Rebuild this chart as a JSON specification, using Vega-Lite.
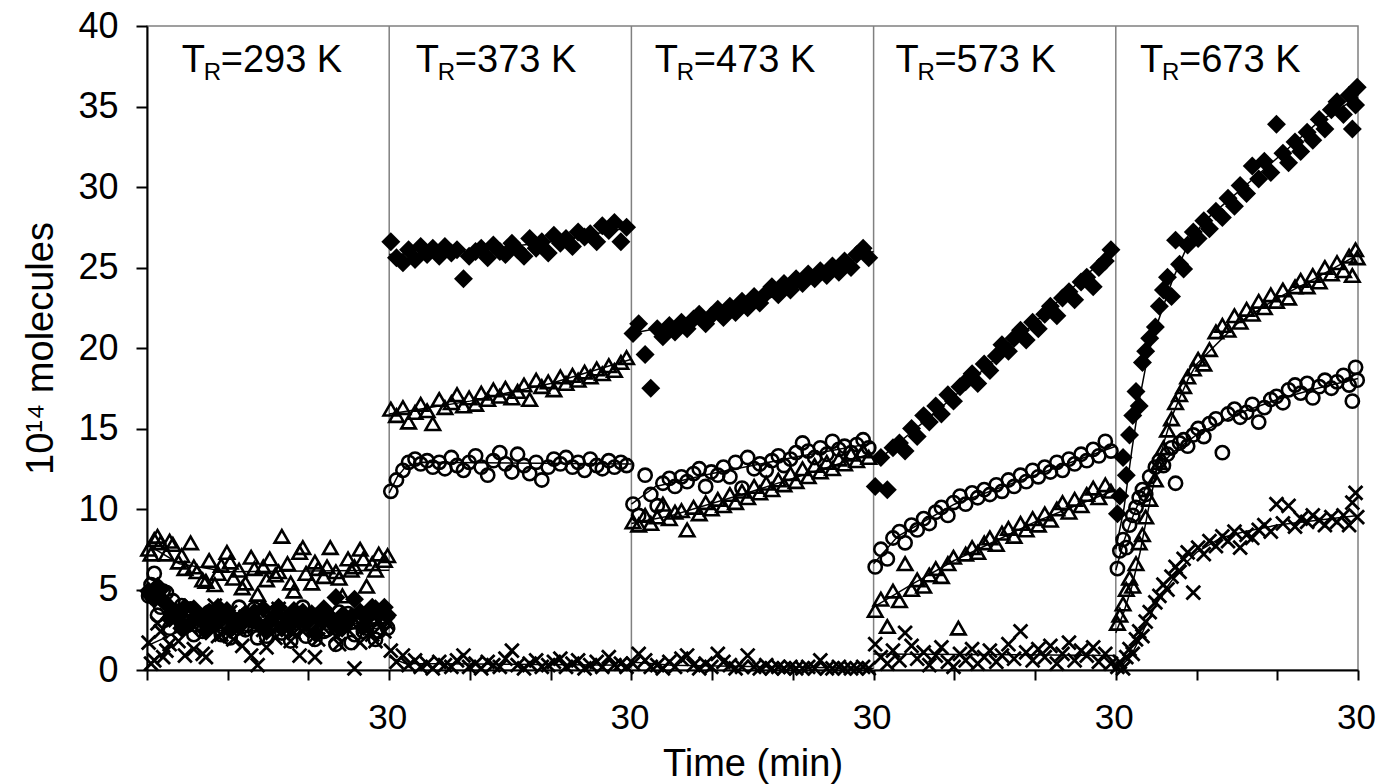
{
"$schema": "https://vega.github.io/schema/vega-lite/v6.json",
"width": 1211, "height": 644,
"autosize": {"type": "none"},
"padding": {"left": 147, "top": 26, "right": 18, "bottom": 114},
"background": "white",
"config": {"view": {"stroke": "#808080", "strokeWidth": 1.5}, "font": "Liberation Sans"},
"datasets": {
"D": [
{"t":0.2,"v":4.9},{"t":0.9,"v":4.4},{"t":1.7,"v":5.0},{"t":2.4,"v":4.1},{"t":3.2,"v":3.6},{"t":3.9,"v":3.3},{"t":4.7,"v":3.9},{"t":5.4,"v":2.9},{"t":6.2,"v":3.4},{"t":6.9,"v":3.0},{"t":7.7,"v":3.6},{"t":8.4,"v":2.8},{"t":9.2,"v":3.3},{"t":9.9,"v":3.7},{"t":10.7,"v":3.1},{"t":11.4,"v":2.7},{"t":12.2,"v":3.5},{"t":12.9,"v":3.2},{"t":13.7,"v":2.9},{"t":14.4,"v":3.8},{"t":15.2,"v":3.0},{"t":15.9,"v":3.4},{"t":16.7,"v":2.6},{"t":17.4,"v":3.3},{"t":18.2,"v":3.7},{"t":18.9,"v":3.1},{"t":19.7,"v":2.9},{"t":20.4,"v":3.5},{"t":21.2,"v":3.2},{"t":21.9,"v":3.8},{"t":22.7,"v":3.0},{"t":23.4,"v":4.5},{"t":24.2,"v":3.4},{"t":24.9,"v":3.1},{"t":25.7,"v":4.4},{"t":26.4,"v":3.6},{"t":27.2,"v":3.2},{"t":27.9,"v":3.9},{"t":28.7,"v":3.4},{"t":29.4,"v":3.9},
{"t":0.5,"v":4.6},{"t":1.3,"v":5.2},{"t":2.0,"v":4.3},{"t":2.8,"v":3.2},{"t":4.3,"v":2.6},{"t":5.8,"v":3.8},{"t":7.3,"v":2.4},{"t":8.8,"v":3.9},{"t":10.3,"v":2.5},{"t":11.8,"v":3.3},{"t":13.3,"v":3.6},{"t":14.8,"v":2.4},{"t":16.3,"v":3.9},{"t":17.8,"v":2.8},{"t":19.3,"v":3.6},{"t":20.8,"v":2.3},{"t":22.3,"v":3.4},{"t":23.8,"v":2.6},{"t":25.3,"v":3.3},{"t":26.8,"v":2.7},{"t":28.3,"v":3.8},{"t":29.8,"v":3.4},
{"t":30.2,"v":26.6},{"t":30.9,"v":25.6},{"t":31.7,"v":25.3},{"t":32.4,"v":26.1},{"t":33.2,"v":25.5},{"t":33.9,"v":26.3},{"t":34.7,"v":25.8},{"t":35.4,"v":26.2},{"t":36.2,"v":25.7},{"t":36.9,"v":26.3},{"t":37.7,"v":25.9},{"t":38.4,"v":26.1},{"t":39.2,"v":24.3},{"t":39.9,"v":25.7},{"t":40.7,"v":26.0},{"t":41.4,"v":26.2},{"t":42.2,"v":25.6},{"t":42.9,"v":26.4},{"t":43.7,"v":26.0},{"t":44.4,"v":25.8},{"t":45.2,"v":26.5},{"t":45.9,"v":26.1},{"t":46.7,"v":25.7},{"t":47.4,"v":26.8},{"t":48.2,"v":26.2},{"t":48.9,"v":26.6},{"t":49.7,"v":25.9},{"t":50.4,"v":27.0},{"t":51.2,"v":26.5},{"t":51.9,"v":26.8},{"t":52.7,"v":26.3},{"t":53.4,"v":27.2},{"t":54.2,"v":26.9},{"t":54.9,"v":27.1},{"t":55.7,"v":26.6},{"t":56.4,"v":27.6},{"t":57.2,"v":27.3},{"t":57.9,"v":27.8},{"t":58.7,"v":26.6},{"t":59.4,"v":27.5},
{"t":60.2,"v":20.9},{"t":60.9,"v":21.5},{"t":61.7,"v":19.6},{"t":62.4,"v":17.5},{"t":63.2,"v":21.2},{"t":63.9,"v":20.7},{"t":64.7,"v":21.4},{"t":65.4,"v":21.0},{"t":66.2,"v":21.6},{"t":66.9,"v":21.2},{"t":67.7,"v":21.8},{"t":68.4,"v":22.1},{"t":69.2,"v":21.5},{"t":69.9,"v":22.0},{"t":70.7,"v":22.4},{"t":71.4,"v":21.9},{"t":72.2,"v":22.6},{"t":72.9,"v":22.2},{"t":73.7,"v":22.9},{"t":74.4,"v":22.5},{"t":75.2,"v":23.2},{"t":75.9,"v":22.8},{"t":76.7,"v":23.4},{"t":77.4,"v":23.8},{"t":78.2,"v":23.3},{"t":78.9,"v":24.0},{"t":79.7,"v":23.6},{"t":80.4,"v":24.3},{"t":81.2,"v":24.0},{"t":81.9,"v":24.6},{"t":82.7,"v":24.3},{"t":83.4,"v":24.8},{"t":84.2,"v":24.5},{"t":84.9,"v":25.1},{"t":85.7,"v":24.7},{"t":86.4,"v":25.4},{"t":87.2,"v":25.0},{"t":87.9,"v":25.8},{"t":88.7,"v":26.2},{"t":89.4,"v":25.6},
{"t":90.2,"v":11.4},{"t":90.9,"v":13.2},{"t":91.7,"v":11.2},{"t":92.4,"v":13.8},{"t":93.2,"v":14.1},{"t":93.9,"v":13.6},{"t":94.7,"v":15.0},{"t":95.4,"v":14.5},{"t":96.2,"v":15.8},{"t":96.9,"v":15.4},{"t":97.7,"v":16.4},{"t":98.4,"v":15.9},{"t":99.2,"v":17.1},{"t":99.9,"v":16.7},{"t":100.7,"v":17.6},{"t":101.4,"v":17.9},{"t":102.2,"v":18.4},{"t":102.9,"v":17.8},{"t":103.7,"v":19.0},{"t":104.4,"v":18.6},{"t":105.2,"v":19.5},{"t":105.9,"v":20.2},{"t":106.7,"v":19.8},{"t":107.4,"v":20.6},{"t":108.2,"v":21.1},{"t":108.9,"v":20.5},{"t":109.7,"v":21.6},{"t":110.4,"v":21.2},{"t":111.2,"v":22.1},{"t":111.9,"v":22.6},{"t":112.7,"v":22.0},{"t":113.4,"v":23.1},{"t":114.2,"v":23.5},{"t":114.9,"v":23.0},{"t":115.7,"v":24.1},{"t":116.4,"v":24.4},{"t":117.2,"v":23.8},{"t":117.9,"v":25.0},{"t":118.7,"v":25.4},{"t":119.4,"v":26.1},
{"t":120.2,"v":9.7},{"t":120.5,"v":10.8},{"t":120.9,"v":13.2},{"t":121.3,"v":12.1},{"t":121.7,"v":14.6},{"t":122.1,"v":15.8},{"t":122.5,"v":17.3},{"t":122.9,"v":16.4},{"t":123.3,"v":19.1},{"t":123.7,"v":19.8},{"t":124.2,"v":20.6},{"t":124.9,"v":21.3},{"t":125.4,"v":22.6},{"t":125.9,"v":23.6},{"t":126.4,"v":24.4},{"t":126.9,"v":23.2},{"t":127.4,"v":26.7},{"t":127.9,"v":25.2},{"t":128.4,"v":24.9},{"t":128.9,"v":26.4},{"t":129.6,"v":27.2},{"t":130.2,"v":26.8},{"t":130.9,"v":27.9},{"t":131.6,"v":27.4},{"t":132.4,"v":28.5},{"t":133.2,"v":28.1},{"t":133.9,"v":29.3},{"t":134.7,"v":28.8},{"t":135.4,"v":30.1},{"t":136.2,"v":29.6},{"t":136.9,"v":31.3},{"t":137.7,"v":30.5},{"t":138.4,"v":31.6},{"t":139.2,"v":30.9},{"t":139.9,"v":33.9},{"t":140.7,"v":32.1},{"t":141.4,"v":31.5},{"t":142.2,"v":32.8},{"t":142.9,"v":32.2},{"t":143.7,"v":33.4},{"t":144.4,"v":32.9},{"t":145.2,"v":34.2},{"t":145.9,"v":33.6},{"t":146.7,"v":34.8},{"t":147.4,"v":35.3},{"t":148.2,"v":34.5},{"t":148.9,"v":35.7},{"t":149.3,"v":33.6},{"t":149.7,"v":35.1},{"t":149.9,"v":36.2}
],
"T": [
{"t":0.2,"v":7.5},{"t":0.9,"v":8.1},{"t":1.7,"v":7.9},{"t":2.4,"v":7.2},{"t":3.2,"v":7.8},{"t":3.9,"v":6.7},{"t":4.7,"v":6.3},{"t":5.4,"v":7.9},{"t":6.2,"v":6.1},{"t":6.9,"v":5.6},{"t":7.7,"v":6.8},{"t":8.4,"v":5.3},{"t":9.2,"v":6.5},{"t":9.9,"v":7.3},{"t":10.7,"v":5.7},{"t":11.4,"v":6.2},{"t":12.2,"v":5.4},{"t":12.9,"v":7.0},{"t":13.7,"v":4.7},{"t":14.4,"v":6.4},{"t":15.2,"v":6.9},{"t":15.9,"v":5.9},{"t":16.7,"v":8.3},{"t":17.4,"v":6.6},{"t":18.2,"v":4.9},{"t":18.9,"v":7.3},{"t":19.7,"v":6.0},{"t":20.4,"v":5.4},{"t":21.2,"v":6.3},{"t":21.9,"v":5.8},{"t":22.7,"v":7.6},{"t":23.4,"v":6.1},{"t":24.2,"v":4.6},{"t":24.9,"v":6.9},{"t":25.7,"v":6.4},{"t":26.4,"v":7.5},{"t":27.2,"v":5.2},{"t":27.9,"v":6.6},{"t":28.7,"v":7.2},{"t":29.4,"v":6.8},
{"t":0.5,"v":7.2},{"t":1.3,"v":8.3},{"t":2.8,"v":8.0},{"t":4.3,"v":7.1},{"t":5.8,"v":6.4},{"t":7.3,"v":5.5},{"t":8.8,"v":6.0},{"t":10.3,"v":6.7},{"t":11.8,"v":5.1},{"t":13.3,"v":6.3},{"t":14.8,"v":5.6},{"t":16.3,"v":6.1},{"t":17.8,"v":5.4},{"t":19.3,"v":7.6},{"t":20.8,"v":6.7},{"t":22.3,"v":6.4},{"t":23.8,"v":5.7},{"t":25.3,"v":6.2},{"t":26.8,"v":6.9},{"t":28.3,"v":6.2},{"t":29.8,"v":7.1},
{"t":30.2,"v":16.2},{"t":30.9,"v":15.8},{"t":31.7,"v":16.3},{"t":32.4,"v":15.4},{"t":33.2,"v":16.0},{"t":33.9,"v":16.5},{"t":34.7,"v":16.1},{"t":35.4,"v":15.3},{"t":36.2,"v":16.8},{"t":36.9,"v":16.3},{"t":37.7,"v":16.6},{"t":38.4,"v":17.1},{"t":39.2,"v":16.4},{"t":39.9,"v":16.9},{"t":40.7,"v":16.5},{"t":41.4,"v":17.2},{"t":42.2,"v":16.8},{"t":42.9,"v":17.4},{"t":43.7,"v":17.0},{"t":44.4,"v":17.5},{"t":45.2,"v":16.9},{"t":45.9,"v":17.3},{"t":46.7,"v":17.7},{"t":47.4,"v":16.8},{"t":48.2,"v":18.0},{"t":48.9,"v":17.6},{"t":49.7,"v":17.9},{"t":50.4,"v":17.4},{"t":51.2,"v":18.2},{"t":51.9,"v":17.8},{"t":52.7,"v":18.3},{"t":53.4,"v":18.0},{"t":54.2,"v":18.5},{"t":54.9,"v":18.2},{"t":55.7,"v":18.7},{"t":56.4,"v":18.4},{"t":57.2,"v":18.9},{"t":57.9,"v":18.6},{"t":58.7,"v":19.1},{"t":59.4,"v":19.4},
{"t":60.2,"v":9.2},{"t":60.9,"v":9.0},{"t":61.7,"v":9.6},{"t":62.4,"v":9.1},{"t":63.2,"v":9.5},{"t":63.9,"v":10.3},{"t":64.7,"v":9.4},{"t":65.4,"v":9.8},{"t":66.2,"v":9.9},{"t":66.9,"v":8.7},{"t":67.7,"v":10.1},{"t":68.4,"v":9.7},{"t":69.2,"v":10.4},{"t":69.9,"v":10.0},{"t":70.7,"v":10.6},{"t":71.4,"v":10.2},{"t":72.2,"v":10.9},{"t":72.9,"v":10.4},{"t":73.7,"v":11.1},{"t":74.4,"v":10.7},{"t":75.2,"v":11.4},{"t":75.9,"v":11.0},{"t":76.7,"v":11.6},{"t":77.4,"v":11.2},{"t":78.2,"v":11.8},{"t":78.9,"v":11.5},{"t":79.7,"v":12.2},{"t":80.4,"v":11.7},{"t":81.2,"v":12.5},{"t":81.9,"v":12.0},{"t":82.7,"v":12.7},{"t":83.4,"v":12.3},{"t":84.2,"v":12.9},{"t":84.9,"v":12.5},{"t":85.7,"v":13.1},{"t":86.4,"v":12.8},{"t":87.2,"v":13.4},{"t":87.9,"v":13.0},{"t":88.7,"v":13.6},{"t":89.4,"v":13.2},
{"t":90.2,"v":3.7},{"t":90.9,"v":4.4},{"t":91.7,"v":2.7},{"t":92.4,"v":4.9},{"t":93.2,"v":4.3},{"t":93.9,"v":6.6},{"t":94.7,"v":5.0},{"t":95.4,"v":5.6},{"t":96.2,"v":5.2},{"t":96.9,"v":5.9},{"t":97.7,"v":6.3},{"t":98.4,"v":5.8},{"t":99.2,"v":6.6},{"t":99.9,"v":7.0},{"t":100.5,"v":2.6},{"t":101.4,"v":7.2},{"t":102.2,"v":7.6},{"t":102.9,"v":7.3},{"t":103.7,"v":7.9},{"t":104.4,"v":8.2},{"t":105.2,"v":7.8},{"t":105.9,"v":8.5},{"t":106.7,"v":8.8},{"t":107.4,"v":8.3},{"t":108.2,"v":9.1},{"t":108.9,"v":8.7},{"t":109.7,"v":9.4},{"t":110.4,"v":9.0},{"t":111.2,"v":9.7},{"t":111.9,"v":9.3},{"t":112.7,"v":10.0},{"t":113.4,"v":10.4},{"t":114.2,"v":9.8},{"t":114.9,"v":10.6},{"t":115.7,"v":10.2},{"t":116.4,"v":10.9},{"t":117.2,"v":11.3},{"t":117.9,"v":10.7},{"t":118.7,"v":11.5},{"t":119.4,"v":11.1},
{"t":120.2,"v":2.9},{"t":120.5,"v":3.4},{"t":120.9,"v":4.1},{"t":121.3,"v":5.0},{"t":121.7,"v":5.7},{"t":122.1,"v":5.2},{"t":122.5,"v":6.6},{"t":122.9,"v":7.9},{"t":123.3,"v":8.4},{"t":123.7,"v":9.5},{"t":124.2,"v":10.6},{"t":124.9,"v":11.8},{"t":125.4,"v":12.9},{"t":125.9,"v":13.8},{"t":126.4,"v":14.9},{"t":126.9,"v":15.6},{"t":127.4,"v":16.6},{"t":127.9,"v":17.1},{"t":128.4,"v":17.6},{"t":128.9,"v":18.2},{"t":129.6,"v":18.7},{"t":130.2,"v":19.3},{"t":130.9,"v":19.0},{"t":131.6,"v":19.9},{"t":132.4,"v":21.0},{"t":133.2,"v":21.4},{"t":133.9,"v":21.1},{"t":134.7,"v":22.0},{"t":135.4,"v":21.6},{"t":136.2,"v":22.4},{"t":136.9,"v":22.1},{"t":137.7,"v":22.9},{"t":138.4,"v":22.5},{"t":139.2,"v":23.3},{"t":139.9,"v":22.9},{"t":140.7,"v":23.6},{"t":141.4,"v":23.1},{"t":142.2,"v":23.8},{"t":142.9,"v":24.2},{"t":143.7,"v":23.8},{"t":144.4,"v":24.5},{"t":145.2,"v":24.1},{"t":145.9,"v":25.0},{"t":146.7,"v":24.6},{"t":147.4,"v":25.3},{"t":148.2,"v":24.8},{"t":148.9,"v":25.7},{"t":149.3,"v":24.5},{"t":149.7,"v":26.1},{"t":149.9,"v":25.6}
],
"C": [
{"t":0.2,"v":4.6},{"t":0.9,"v":6.0},{"t":1.7,"v":3.9},{"t":2.4,"v":4.8},{"t":3.2,"v":4.3},{"t":3.9,"v":3.5},{"t":4.7,"v":2.7},{"t":5.4,"v":3.8},{"t":6.2,"v":3.2},{"t":6.9,"v":2.4},{"t":7.7,"v":3.6},{"t":8.4,"v":2.9},{"t":9.2,"v":2.2},{"t":9.9,"v":3.4},{"t":10.7,"v":2.8},{"t":11.4,"v":3.9},{"t":12.2,"v":2.5},{"t":12.9,"v":3.1},{"t":13.7,"v":2.0},{"t":14.4,"v":3.3},{"t":15.2,"v":2.7},{"t":15.9,"v":3.6},{"t":16.7,"v":2.3},{"t":17.4,"v":3.0},{"t":18.2,"v":2.6},{"t":18.9,"v":3.5},{"t":19.7,"v":2.1},{"t":20.4,"v":2.9},{"t":21.2,"v":3.4},{"t":21.9,"v":2.4},{"t":22.7,"v":3.2},{"t":23.4,"v":1.6},{"t":24.2,"v":2.8},{"t":24.9,"v":3.5},{"t":25.7,"v":2.2},{"t":26.4,"v":3.0},{"t":27.2,"v":2.6},{"t":27.9,"v":3.3},{"t":28.7,"v":2.4},{"t":29.4,"v":3.0},
{"t":0.5,"v":5.3},{"t":1.3,"v":3.4},{"t":2.0,"v":4.9},{"t":2.8,"v":2.6},{"t":4.3,"v":4.0},{"t":5.8,"v":2.2},{"t":7.3,"v":3.0},{"t":8.8,"v":3.7},{"t":10.3,"v":2.0},{"t":11.8,"v":2.7},{"t":13.3,"v":3.8},{"t":14.8,"v":2.1},{"t":16.3,"v":3.2},{"t":17.8,"v":1.8},{"t":19.3,"v":3.9},{"t":20.8,"v":1.9},{"t":22.3,"v":2.5},{"t":23.8,"v":3.6},{"t":25.3,"v":1.7},{"t":26.8,"v":2.4},{"t":28.3,"v":1.9},{"t":29.8,"v":2.6},
{"t":30.2,"v":11.1},{"t":30.9,"v":11.8},{"t":31.7,"v":12.4},{"t":32.4,"v":12.9},{"t":33.2,"v":13.1},{"t":33.9,"v":12.8},{"t":34.7,"v":13.0},{"t":35.4,"v":12.6},{"t":36.2,"v":12.9},{"t":36.9,"v":12.5},{"t":37.7,"v":13.2},{"t":38.4,"v":12.7},{"t":39.2,"v":12.4},{"t":39.9,"v":12.9},{"t":40.7,"v":13.3},{"t":41.4,"v":12.6},{"t":42.2,"v":12.1},{"t":42.9,"v":13.0},{"t":43.7,"v":13.5},{"t":44.4,"v":12.8},{"t":45.2,"v":12.3},{"t":45.9,"v":13.4},{"t":46.7,"v":12.7},{"t":47.4,"v":12.2},{"t":48.2,"v":12.9},{"t":48.9,"v":11.8},{"t":49.7,"v":12.6},{"t":50.4,"v":13.1},{"t":51.2,"v":12.8},{"t":51.9,"v":13.2},{"t":52.7,"v":12.6},{"t":53.4,"v":12.9},{"t":54.2,"v":12.4},{"t":54.9,"v":13.1},{"t":55.7,"v":12.7},{"t":56.4,"v":12.5},{"t":57.2,"v":13.0},{"t":57.9,"v":12.6},{"t":58.7,"v":12.9},{"t":59.4,"v":12.7},
{"t":60.2,"v":10.3},{"t":60.9,"v":9.6},{"t":61.7,"v":12.1},{"t":62.4,"v":10.9},{"t":63.2,"v":10.2},{"t":63.9,"v":11.6},{"t":64.7,"v":11.9},{"t":65.4,"v":11.4},{"t":66.2,"v":12.0},{"t":66.9,"v":11.7},{"t":67.7,"v":12.2},{"t":68.4,"v":12.5},{"t":69.2,"v":11.4},{"t":69.9,"v":12.3},{"t":70.7,"v":12.1},{"t":71.4,"v":12.6},{"t":72.2,"v":12.0},{"t":72.9,"v":12.9},{"t":73.7,"v":11.3},{"t":74.4,"v":13.2},{"t":75.2,"v":12.5},{"t":75.9,"v":12.8},{"t":76.7,"v":12.4},{"t":77.4,"v":13.0},{"t":78.2,"v":13.3},{"t":78.9,"v":12.7},{"t":79.7,"v":13.1},{"t":80.4,"v":13.5},{"t":81.2,"v":14.1},{"t":81.9,"v":13.6},{"t":82.7,"v":13.2},{"t":83.4,"v":13.8},{"t":84.2,"v":13.4},{"t":84.9,"v":14.2},{"t":85.7,"v":13.7},{"t":86.4,"v":13.9},{"t":87.2,"v":13.5},{"t":87.9,"v":14.0},{"t":88.7,"v":14.3},{"t":89.4,"v":13.8},
{"t":90.2,"v":6.4},{"t":90.9,"v":7.5},{"t":91.7,"v":6.9},{"t":92.4,"v":8.2},{"t":93.2,"v":8.6},{"t":93.9,"v":7.9},{"t":94.7,"v":9.0},{"t":95.4,"v":8.7},{"t":96.2,"v":9.4},{"t":96.9,"v":9.1},{"t":97.7,"v":9.8},{"t":98.4,"v":10.1},{"t":99.2,"v":9.6},{"t":99.9,"v":10.4},{"t":100.7,"v":10.8},{"t":101.4,"v":10.3},{"t":102.2,"v":11.0},{"t":102.9,"v":10.7},{"t":103.7,"v":11.2},{"t":104.4,"v":10.9},{"t":105.2,"v":11.5},{"t":105.9,"v":11.1},{"t":106.7,"v":11.8},{"t":107.4,"v":11.4},{"t":108.2,"v":12.1},{"t":108.9,"v":11.7},{"t":109.7,"v":12.4},{"t":110.4,"v":12.0},{"t":111.2,"v":12.6},{"t":111.9,"v":12.3},{"t":112.7,"v":12.9},{"t":113.4,"v":12.4},{"t":114.2,"v":13.1},{"t":114.9,"v":12.8},{"t":115.7,"v":13.4},{"t":116.4,"v":13.0},{"t":117.2,"v":13.7},{"t":117.9,"v":13.3},{"t":118.7,"v":14.2},{"t":119.4,"v":13.6},
{"t":120.2,"v":6.3},{"t":120.5,"v":7.4},{"t":120.9,"v":8.1},{"t":121.3,"v":7.6},{"t":121.7,"v":9.0},{"t":122.1,"v":9.6},{"t":122.5,"v":10.1},{"t":122.9,"v":10.7},{"t":123.3,"v":11.2},{"t":123.7,"v":10.9},{"t":124.2,"v":12.0},{"t":124.9,"v":12.6},{"t":125.4,"v":13.0},{"t":125.9,"v":12.7},{"t":126.4,"v":13.4},{"t":126.9,"v":13.8},{"t":127.4,"v":11.6},{"t":127.9,"v":14.1},{"t":128.4,"v":14.3},{"t":128.9,"v":13.9},{"t":129.6,"v":14.6},{"t":130.2,"v":15.0},{"t":130.9,"v":14.5},{"t":131.6,"v":15.3},{"t":132.4,"v":15.6},{"t":133.2,"v":13.5},{"t":133.9,"v":15.9},{"t":134.7,"v":16.2},{"t":135.4,"v":15.7},{"t":136.2,"v":16.0},{"t":136.9,"v":16.5},{"t":137.7,"v":15.4},{"t":138.4,"v":16.3},{"t":139.2,"v":16.8},{"t":139.9,"v":17.0},{"t":140.7,"v":16.6},{"t":141.4,"v":17.4},{"t":142.2,"v":17.7},{"t":142.9,"v":17.2},{"t":143.7,"v":17.8},{"t":144.4,"v":16.9},{"t":145.2,"v":17.6},{"t":145.9,"v":18.0},{"t":146.7,"v":17.5},{"t":147.4,"v":17.9},{"t":148.2,"v":18.3},{"t":148.9,"v":17.7},{"t":149.3,"v":16.7},{"t":149.7,"v":18.8},{"t":149.9,"v":18.0}
],
"X": [
{"t":0.2,"v":1.7},{"t":0.9,"v":0.6},{"t":1.7,"v":2.4},{"t":2.4,"v":1.2},{"t":3.2,"v":3.1},{"t":3.9,"v":1.8},{"t":4.7,"v":0.9},{"t":5.4,"v":2.6},{"t":6.2,"v":3.4},{"t":6.9,"v":1.0},{"t":7.7,"v":2.8},{"t":8.4,"v":4.0},{"t":9.2,"v":2.2},{"t":9.9,"v":3.0},{"t":10.7,"v":1.9},{"t":11.4,"v":2.6},{"t":12.2,"v":3.3},{"t":12.9,"v":0.9},{"t":13.7,"v":0.3},{"t":14.4,"v":2.5},{"t":15.2,"v":3.1},{"t":15.9,"v":2.0},{"t":16.7,"v":2.8},{"t":17.4,"v":3.5},{"t":18.2,"v":2.3},{"t":18.9,"v":0.9},{"t":19.7,"v":2.7},{"t":20.4,"v":3.2},{"t":21.2,"v":1.9},{"t":21.9,"v":2.6},{"t":22.7,"v":3.6},{"t":23.4,"v":2.1},{"t":24.2,"v":3.0},{"t":24.9,"v":2.5},{"t":25.7,"v":0.1},{"t":26.4,"v":1.7},{"t":27.2,"v":2.8},{"t":27.9,"v":2.2},{"t":28.7,"v":3.1},{"t":29.4,"v":2.4},
{"t":0.5,"v":0.4},{"t":1.3,"v":2.9},{"t":2.0,"v":0.8},{"t":2.8,"v":1.6},{"t":4.3,"v":3.7},{"t":5.8,"v":1.3},{"t":7.3,"v":0.8},{"t":8.8,"v":2.1},{"t":10.3,"v":3.6},{"t":11.8,"v":1.5},{"t":13.3,"v":2.7},{"t":14.8,"v":1.4},{"t":16.3,"v":3.8},{"t":17.8,"v":1.8},{"t":19.3,"v":2.4},{"t":20.8,"v":0.8},{"t":22.3,"v":2.9},{"t":23.8,"v":1.6},{"t":25.3,"v":3.4},{"t":26.8,"v":2.6},{"t":28.3,"v":1.8},{"t":29.8,"v":2.9},
{"t":30.2,"v":1.2},{"t":30.9,"v":0.5},{"t":31.7,"v":0.9},{"t":32.4,"v":0.3},{"t":33.2,"v":0.6},{"t":33.9,"v":0.2},{"t":34.7,"v":0.4},{"t":35.4,"v":0.1},{"t":36.2,"v":0.5},{"t":36.9,"v":0.3},{"t":37.7,"v":0.2},{"t":38.4,"v":0.6},{"t":39.2,"v":0.9},{"t":39.9,"v":0.2},{"t":40.7,"v":0.4},{"t":41.4,"v":0.1},{"t":42.2,"v":0.5},{"t":42.9,"v":0.3},{"t":43.7,"v":0.2},{"t":44.4,"v":0.7},{"t":45.2,"v":1.2},{"t":45.9,"v":0.3},{"t":46.7,"v":0.1},{"t":47.4,"v":0.4},{"t":48.2,"v":0.6},{"t":48.9,"v":0.2},{"t":49.7,"v":0.3},{"t":50.4,"v":0.5},{"t":51.2,"v":0.7},{"t":51.9,"v":0.2},{"t":52.7,"v":0.4},{"t":53.4,"v":0.6},{"t":54.2,"v":0.1},{"t":54.9,"v":0.3},{"t":55.7,"v":0.5},{"t":56.4,"v":0.2},{"t":57.2,"v":0.8},{"t":57.9,"v":0.3},{"t":58.7,"v":0.4},{"t":59.4,"v":0.2},
{"t":60.2,"v":0.4},{"t":60.9,"v":1.0},{"t":61.7,"v":0.6},{"t":62.4,"v":0.2},{"t":63.2,"v":0.3},{"t":63.9,"v":0.1},{"t":64.7,"v":0.5},{"t":65.4,"v":0.2},{"t":66.2,"v":0.7},{"t":66.9,"v":0.9},{"t":67.7,"v":0.3},{"t":68.4,"v":0.1},{"t":69.2,"v":0.4},{"t":69.9,"v":0.2},{"t":70.7,"v":1.0},{"t":71.4,"v":0.5},{"t":72.2,"v":0.3},{"t":72.9,"v":0.1},{"t":73.7,"v":0.2},{"t":74.4,"v":0.9},{"t":75.2,"v":0.2},{"t":75.9,"v":0.1},{"t":76.7,"v":0.3},{"t":77.4,"v":0.1},{"t":78.2,"v":0.2},{"t":78.9,"v":0.1},{"t":79.7,"v":0.2},{"t":80.4,"v":0.1},{"t":81.2,"v":0.1},{"t":81.9,"v":0.2},{"t":82.7,"v":0.1},{"t":83.4,"v":0.6},{"t":84.2,"v":0.1},{"t":84.9,"v":0.1},{"t":85.7,"v":0.2},{"t":86.4,"v":0.1},{"t":87.2,"v":0.1},{"t":87.9,"v":0.1},{"t":88.7,"v":0.2},{"t":89.4,"v":0.1},
{"t":90.2,"v":1.6},{"t":90.9,"v":0.8},{"t":91.7,"v":0.4},{"t":92.4,"v":1.2},{"t":93.2,"v":0.6},{"t":93.9,"v":2.3},{"t":94.7,"v":1.5},{"t":95.4,"v":0.7},{"t":96.2,"v":1.1},{"t":96.9,"v":0.3},{"t":97.7,"v":0.9},{"t":98.4,"v":1.4},{"t":99.2,"v":0.5},{"t":99.9,"v":0.2},{"t":100.7,"v":1.0},{"t":101.4,"v":0.6},{"t":102.2,"v":1.3},{"t":102.9,"v":0.4},{"t":103.7,"v":0.8},{"t":104.4,"v":1.2},{"t":105.2,"v":0.5},{"t":105.9,"v":0.9},{"t":106.7,"v":1.6},{"t":107.4,"v":0.7},{"t":108.2,"v":2.4},{"t":108.9,"v":1.1},{"t":109.7,"v":0.6},{"t":110.4,"v":1.3},{"t":111.2,"v":0.8},{"t":111.9,"v":1.5},{"t":112.7,"v":0.4},{"t":113.4,"v":1.0},{"t":114.2,"v":1.7},{"t":114.9,"v":0.6},{"t":115.7,"v":1.2},{"t":116.4,"v":0.9},{"t":117.2,"v":1.4},{"t":117.9,"v":0.5},{"t":118.7,"v":1.0},{"t":119.4,"v":0.4},
{"t":120.2,"v":0.2},{"t":120.5,"v":0.5},{"t":120.9,"v":0.1},{"t":121.3,"v":0.8},{"t":121.7,"v":1.3},{"t":122.1,"v":1.0},{"t":122.5,"v":1.9},{"t":122.9,"v":2.4},{"t":123.3,"v":2.1},{"t":123.7,"v":3.0},{"t":124.2,"v":3.6},{"t":124.9,"v":4.2},{"t":125.4,"v":4.6},{"t":125.9,"v":5.3},{"t":126.4,"v":5.0},{"t":126.9,"v":5.8},{"t":127.4,"v":6.4},{"t":127.9,"v":6.1},{"t":128.4,"v":6.9},{"t":128.9,"v":7.3},{"t":129.6,"v":4.8},{"t":130.2,"v":7.6},{"t":130.9,"v":7.2},{"t":131.6,"v":8.0},{"t":132.4,"v":7.7},{"t":133.2,"v":8.3},{"t":133.9,"v":8.0},{"t":134.7,"v":8.6},{"t":135.4,"v":7.6},{"t":136.2,"v":8.4},{"t":136.9,"v":8.2},{"t":137.7,"v":8.7},{"t":138.4,"v":9.0},{"t":139.2,"v":8.6},{"t":139.9,"v":10.3},{"t":140.7,"v":9.1},{"t":141.4,"v":10.2},{"t":142.2,"v":8.9},{"t":142.9,"v":9.4},{"t":143.7,"v":9.2},{"t":144.4,"v":9.6},{"t":145.2,"v":9.3},{"t":145.9,"v":9.0},{"t":146.7,"v":9.5},{"t":147.4,"v":9.2},{"t":148.2,"v":9.6},{"t":148.9,"v":9.0},{"t":149.3,"v":10.4},{"t":149.7,"v":11.0},{"t":149.9,"v":9.5}
],
"fit": [
{"g":"D1","t":0,"v":4.6},{"g":"D1","t":3,"v":3.5},{"g":"D1","t":8,"v":3.2},{"g":"D1","t":30,"v":3.5},
{"g":"T1","t":0,"v":7.8},{"g":"T1","t":4,"v":6.6},{"g":"T1","t":10,"v":6.1},{"g":"T1","t":30,"v":6.2},
{"g":"C1","t":0,"v":5.0},{"g":"C1","t":4,"v":3.4},{"g":"C1","t":10,"v":2.9},{"g":"C1","t":30,"v":2.9},
{"g":"X1","t":0,"v":1.5},{"g":"X1","t":4,"v":2.4},{"g":"X1","t":30,"v":2.6},
{"g":"D2","t":30,"v":25.8},{"g":"D2","t":40,"v":26.0},{"g":"D2","t":50,"v":26.6},{"g":"D2","t":60,"v":27.5},
{"g":"T2","t":30,"v":15.9},{"g":"T2","t":40,"v":16.7},{"g":"T2","t":50,"v":17.8},{"g":"T2","t":60,"v":19.3},
{"g":"C2","t":30,"v":11.0},{"g":"C2","t":31,"v":12.0},{"g":"C2","t":32,"v":12.6},{"g":"C2","t":34,"v":12.9},{"g":"C2","t":60,"v":12.8},
{"g":"X2","t":30,"v":0.8},{"g":"X2","t":32,"v":0.4},{"g":"X2","t":60,"v":0.3},
{"g":"D3","t":60,"v":20.9},{"g":"D3","t":70,"v":21.9},{"g":"D3","t":80,"v":23.6},{"g":"D3","t":90,"v":26.0},
{"g":"C3","t":60,"v":10.3},{"g":"C3","t":63,"v":11.4},{"g":"C3","t":70,"v":12.2},{"g":"C3","t":80,"v":13.2},{"g":"C3","t":90,"v":14.1},
{"g":"T3","t":60,"v":9.1},{"g":"T3","t":65,"v":9.6},{"g":"T3","t":75,"v":11.1},{"g":"T3","t":90,"v":13.5},
{"g":"X3","t":60,"v":0.5},{"g":"X3","t":65,"v":0.3},{"g":"X3","t":90,"v":0.1},
{"g":"D4","t":90,"v":12.8},{"g":"D4","t":100,"v":17.0},{"g":"D4","t":110,"v":21.6},{"g":"D4","t":120,"v":26.2},
{"g":"C4","t":90,"v":6.6},{"g":"C4","t":93,"v":8.3},{"g":"C4","t":100,"v":10.3},{"g":"C4","t":110,"v":12.1},{"g":"C4","t":120,"v":13.9},
{"g":"T4","t":90,"v":3.9},{"g":"T4","t":95,"v":5.4},{"g":"T4","t":100,"v":6.8},{"g":"T4","t":110,"v":9.2},{"g":"T4","t":120,"v":11.2},
{"g":"X4","t":90,"v":1.0},{"g":"X4","t":120,"v":0.9},
{"g":"D5","t":120,"v":7.5},{"g":"D5","t":121,"v":10.0},{"g":"D5","t":122,"v":13.7},{"g":"D5","t":123,"v":17.0},{"g":"D5","t":124,"v":19.6},{"g":"D5","t":125,"v":21.3},{"g":"D5","t":127,"v":24.2},{"g":"D5","t":129,"v":26.5},{"g":"D5","t":131,"v":27.9},{"g":"D5","t":134,"v":29.2},{"g":"D5","t":137,"v":30.5},{"g":"D5","t":140,"v":31.8},{"g":"D5","t":145,"v":34.0},{"g":"D5","t":150,"v":35.6},
{"g":"T5","t":120,"v":2.3},{"g":"T5","t":121,"v":3.6},{"g":"T5","t":122,"v":5.2},{"g":"T5","t":123,"v":7.3},{"g":"T5","t":124,"v":9.9},{"g":"T5","t":125,"v":12.3},{"g":"T5","t":126,"v":14.2},{"g":"T5","t":127,"v":15.8},{"g":"T5","t":128,"v":17.0},{"g":"T5","t":129,"v":18.1},{"g":"T5","t":130,"v":19.0},{"g":"T5","t":132,"v":20.0},{"g":"T5","t":135,"v":21.5},{"g":"T5","t":140,"v":23.1},{"g":"T5","t":145,"v":24.4},{"g":"T5","t":150,"v":25.8},
{"g":"C5","t":120,"v":6.2},{"g":"C5","t":121,"v":8.0},{"g":"C5","t":122,"v":9.4},{"g":"C5","t":123,"v":10.6},{"g":"C5","t":124,"v":11.6},{"g":"C5","t":125,"v":12.4},{"g":"C5","t":127,"v":13.5},{"g":"C5","t":130,"v":14.6},{"g":"C5","t":135,"v":15.9},{"g":"C5","t":140,"v":16.8},{"g":"C5","t":145,"v":17.5},{"g":"C5","t":150,"v":18.1},
{"g":"X5","t":120,"v":0.2},{"g":"X5","t":121,"v":0.4},{"g":"X5","t":122,"v":1.0},{"g":"X5","t":123,"v":2.0},{"g":"X5","t":124,"v":3.1},{"g":"X5","t":125,"v":4.1},{"g":"X5","t":126,"v":4.9},{"g":"X5","t":128,"v":6.3},{"g":"X5","t":130,"v":7.3},{"g":"X5","t":133,"v":8.2},{"g":"X5","t":136,"v":8.6},{"g":"X5","t":140,"v":9.0},{"g":"X5","t":145,"v":9.3},{"g":"X5","t":150,"v":9.6}
],
"sep": [{"t":30,"v":0,"v2":40},{"t":60,"v":0,"v2":40},{"t":90,"v":0,"v2":40},{"t":120,"v":0,"v2":40}],
"lab": [{"t":4.3,"v":37.14,"lab":"=293 K"},{"t":33.3,"v":37.14,"lab":"=373 K"},{"t":62.9,"v":37.14,"lab":"=473 K"},{"t":92.7,"v":37.14,"lab":"=573 K"},{"t":123.0,"v":37.14,"lab":"=673 K"}]
},
"encoding": {
"x": {"field": "t", "type": "quantitative", "title": "Time (min)",
 "scale": {"domain": [0, 150], "nice": false, "zero": false},
 "axis": {"values": [0,10,20,30,40,50,60,70,80,90,100,110,120,130,140,150],
  "labelExpr": "datum.value > 0 && datum.value % 30 == 0 ? '30' : ''",
  "grid": false, "tickSize": 10, "tickWidth": 2, "tickColor": "black",
  "domainColor": "black", "domainWidth": 2, "labelFontSize": 35, "labelColor": "black",
  "labelPadding": 20, "labelOffset": -2, "labelFlush": false, "labelOverlap": false,
  "titleFontSize": 38, "titleFontWeight": "normal", "titleColor": "black",
  "titleBaseline": "alphabetic", "titleY": 105}},
"y": {"field": "v", "type": "quantitative", "title": "10¹⁴  molecules",
 "scale": {"domain": [0, 40], "nice": false, "zero": false},
 "axis": {"values": [0,5,10,15,20,25,30,35,40], "grid": false,
  "tickSize": 11, "tickWidth": 2, "tickColor": "black",
  "domainColor": "black", "domainWidth": 2, "labelFontSize": 36, "labelColor": "black",
  "labelPadding": 18, "labelFlush": false, "labelOverlap": false,
  "titleFontSize": 38, "titleFontWeight": "normal", "titleColor": "black",
  "titleBaseline": "alphabetic", "titleX": -95, "titleY": 322, "titleAngle": 270}}
},
"layer": [
{"data": {"name": "sep"}, "mark": {"type": "rule", "color": "#808080", "strokeWidth": 1.5}, "encoding": {"y2": {"field": "v2"}}},
{"data": {"name": "X"}, "mark": {"type": "point", "shape": "M-1,-1L1,1M-1,1L1,-1", "filled": false, "color": "black", "strokeWidth": 2.8, "size": 190, "opacity": 1}},
{"data": {"name": "C"}, "mark": {"type": "point", "shape": "circle", "filled": false, "color": "black", "strokeWidth": 2.6, "size": 175, "opacity": 1}},
{"data": {"name": "T"}, "mark": {"type": "point", "shape": "triangle-up", "filled": false, "color": "black", "strokeWidth": 2.6, "size": 210, "opacity": 1}},
{"data": {"name": "D"}, "mark": {"type": "point", "shape": "diamond", "filled": true, "color": "black", "size": 360, "opacity": 1}},
{"data": {"name": "fit"}, "mark": {"type": "line", "color": "black", "strokeWidth": 1.5}, "encoding": {"detail": {"field": "g"}}},
{"data": {"name": "lab"}, "mark": {"type": "text", "text": "T", "align": "left", "baseline": "alphabetic", "fontSize": 38, "color": "black"}},
{"data": {"name": "lab"}, "mark": {"type": "text", "text": "R", "align": "left", "baseline": "alphabetic", "fontSize": 24, "dx": 22, "dy": 8, "color": "black"}},
{"data": {"name": "lab"}, "mark": {"type": "text", "align": "left", "baseline": "alphabetic", "fontSize": 38, "dx": 39, "color": "black"}, "encoding": {"text": {"field": "lab"}}}
]
}
